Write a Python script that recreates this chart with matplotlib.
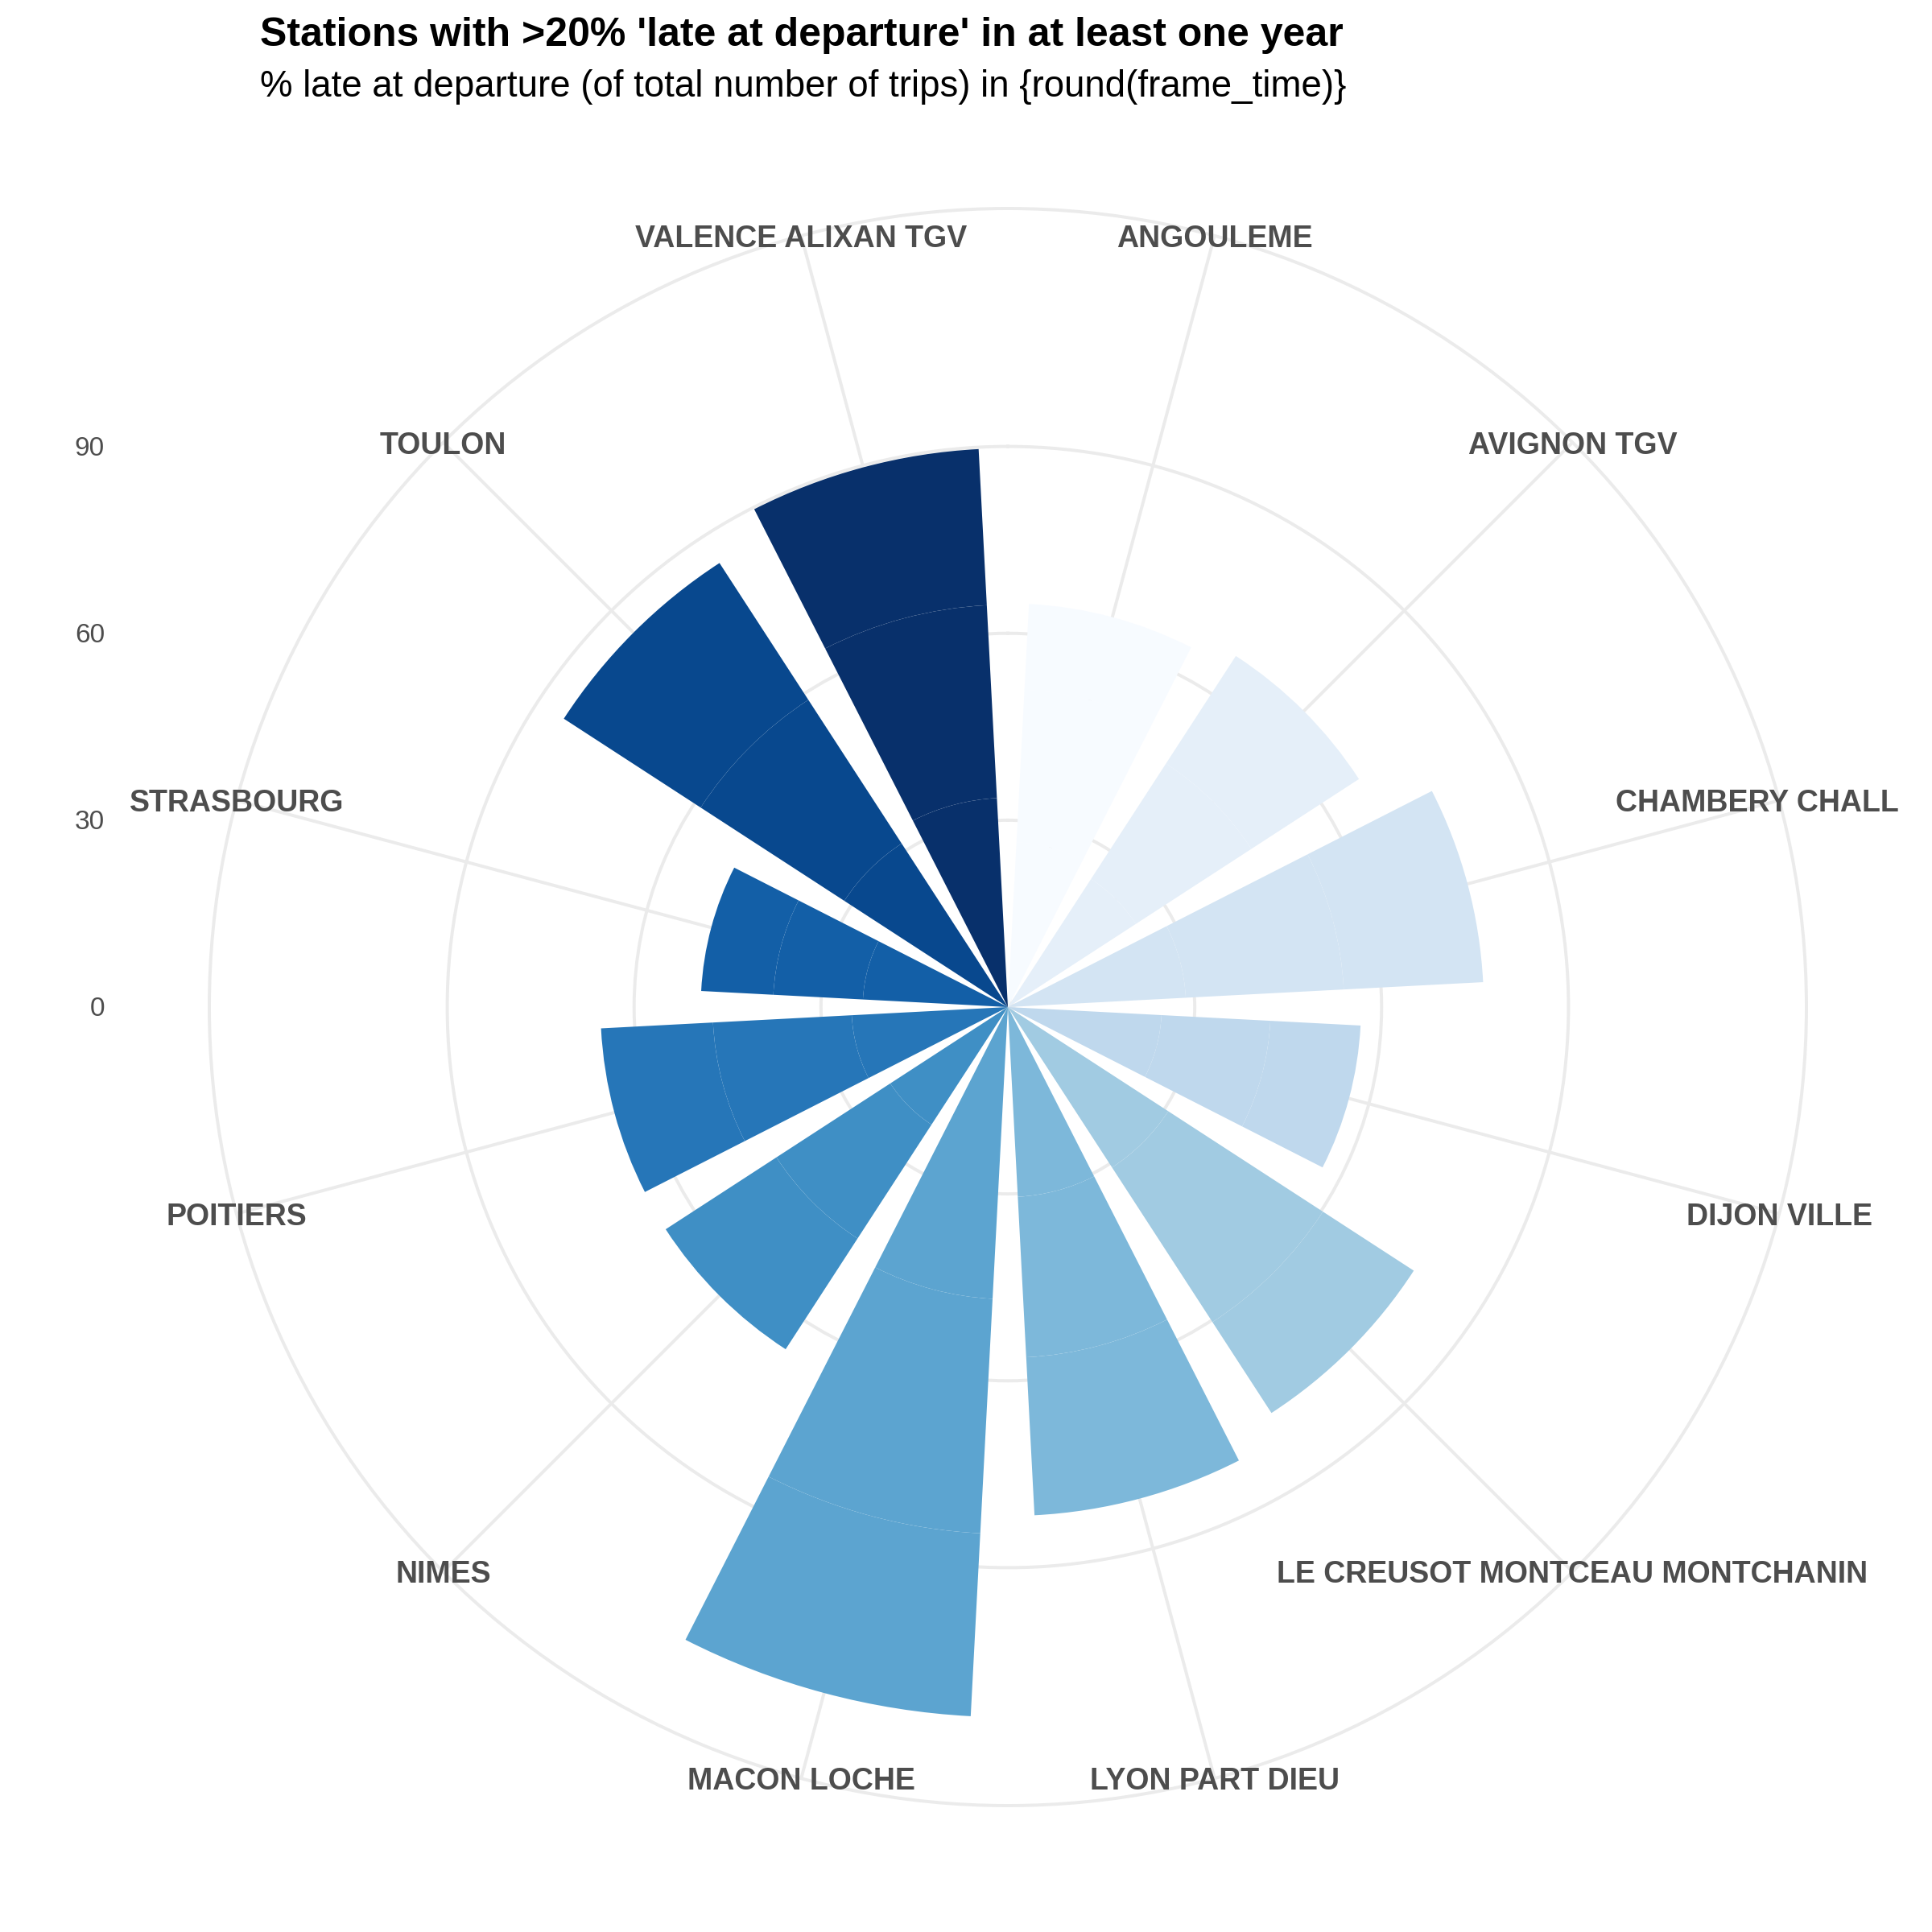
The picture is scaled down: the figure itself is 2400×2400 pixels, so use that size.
import numpy as np
import matplotlib
matplotlib.use("Agg")
import matplotlib.pyplot as plt

stations = ["ANGOULEME", "AVIGNON TGV", "CHAMBERY CHALL", "DIJON VILLE",
            "LE CREUSOT MONTCEAU MONTCHANIN", "LYON PART DIEU", "MACON LOCHE",
            "NIMES", "POITIERS", "STRASBOURG", "TOULON", "VALENCE ALIXAN TGV"]
layer_1 = [26.5, 24.5, 28.6, 24.7, 30.7, 30.5, 46.9, 22.5, 25.1, 23.3, 31.3, 33.6]
layer_2 = [24.5, 22.1, 25.4, 17.5, 29.6, 25.8, 37.7, 21.8, 22.3, 14.4, 27.5, 31.0]
layer_3 = [13.8, 20.6, 22.4, 14.5, 17.4, 25.4, 29.4, 21.2, 18.0, 11.6, 26.2, 25.1]
radial_ticks = [0, 30, 60, 90]
title = "Stations with >20% 'late at departure' in at least one year"
subtitle = "% late at departure (of total number of trips) in {round(frame_time)}"

W = 2400
GRID = "#EBEBEB"
TEXT = "#4D4D4D"
FONT = "Liberation Sans"
RMAX = 128.2

fig = plt.figure(figsize=(8, 8), dpi=300, facecolor="white")
cx, cy, R = 1252, 2400 - 1251, 992
ax = fig.add_axes([(cx - R) / W, (cy - R) / W, 2 * R / W, 2 * R / W], projection="polar")
ax.set_theta_zero_location("N")
ax.set_theta_direction(-1)
ax.set_ylim(0, RMAX)
ax.set_axisbelow(True)

n = len(stations)
theta = (np.arange(n) + 0.5) * 2 * np.pi / n
width = 0.8 * 2 * np.pi / n
colors = plt.get_cmap("Blues")(np.linspace(0, 1, n))

bottom = np.zeros(n)
for layer in (layer_1, layer_2, layer_3):
    ax.bar(theta, layer, width=width, bottom=bottom, color=colors, linewidth=0, antialiased=True, zorder=3)
    bottom += np.array(layer)

ax.set_xticks(theta)
ax.set_xticklabels([])
ax.set_yticks(radial_ticks)
ax.set_yticklabels([])
ax.grid(True, color=GRID, linewidth=0.95)
ax.tick_params(length=0)
ax.spines["polar"].set_color(GRID)
ax.spines["polar"].set_linewidth(0.95)
ax.patch.set_alpha(0)

for t, name in zip(theta, stations):
    shift = -27 if name == "CHAMBERY CHALL" else 0
    ax.annotate(name, xy=(t, RMAX), xytext=(shift, -4), textcoords="offset pixels",
                ha="center", va="center", fontsize=9, fontweight="bold",
                family=FONT, color=TEXT, zorder=5, annotation_clip=False)

for v in radial_ticks:
    y = ax.transData.transform((0, v))[1] - 3
    fig.text(130 / W, y / W, str(v), ha="right", va="center", fontsize=8, family=FONT, color=TEXT)

fig.text(323 / W, (2400 - 57) / W, title, ha="left", va="baseline", fontsize=12,
         fontweight="bold", family=FONT, color="black")
fig.text(323 / W, (2400 - 120) / W, subtitle, ha="left", va="baseline", fontsize=10.96,
         family=FONT, color="black")

fig.savefig("out.png", dpi=300, facecolor="white")
